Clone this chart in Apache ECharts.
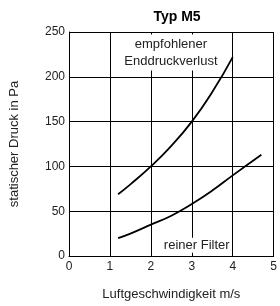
<!DOCTYPE html>
<html>
<head>
<meta charset="utf-8">
<script src="https://cdn.jsdelivr.net/npm/echarts@6/dist/echarts.min.js"></script>
<style>
  html,body{margin:0;padding:0;background:#fff;}
  #chart{width:280px;height:306px;}
</style>
</head>
<body>
<div id="chart"></div>
<script>
  // Werte
  const xTicks = [0, 1, 2, 3, 4, 5];
  const yTicks = [0, 50, 100, 150, 200, 250];
  const endDruck = [[1.2, 69], [1.5, 80], [2, 100], [2.5, 123], [3, 150], [3.5, 183], [4, 222]];
  const reinerFilter = [[1.2, 20], [1.5, 25], [2, 35], [2.5, 45], [3, 58], [3.5, 73], [4, 90], [4.7, 113]];
  const labelEnd = ['empfohlener', 'Enddruckverlust'];
  const labelRein = 'reiner Filter';

  let myChart = echarts.init(document.getElementById('chart'));
  const font = 'Liberation Sans, Arial, sans-serif';
  let lineStyle = {color: '#000', width: 1.8};

  let option = {
    animation: false,
    title: {
      text: 'Typ M5',
      left: 172,
      top: 5,
      textAlign: 'center',
      textStyle: {fontFamily: font, fontSize: 14, fontWeight: 'bold', color: '#000'}
    },
    grid: {left: 66, right: 1, top: 32, bottom: 45},
    xAxis: {
      type: 'value',
      min: 0, max: 5, interval: 1,
      name: 'Luftgeschwindigkeit m/s',
      nameLocation: 'middle',
      nameGap: 32,
      nameTextStyle: {fontFamily: font, fontSize: 13, color: '#222'},
      axisLine: {lineStyle: {color: '#000', width: 1}},
      axisTick: {show: false},
      axisLabel: {fontFamily: font, fontSize: 12, color: '#222', margin: 5},
      splitLine: {lineStyle: {color: '#000', width: 1}}
    },
    yAxis: {
      type: 'value',
      min: 0, max: 250, interval: 50,
      name: 'statischer Druck in Pa',
      nameLocation: 'middle',
      nameGap: 48,
      nameTextStyle: {fontFamily: font, fontSize: 13, color: '#222'},
      axisLine: {show: true, lineStyle: {color: '#000', width: 1}},
      axisTick: {show: false},
      axisLabel: {fontFamily: font, fontSize: 12, color: '#222', margin: 4},
      splitLine: {lineStyle: {color: '#000', width: 1}}
    },
    series: [
      {
        type: 'line',
        data: endDruck,
        smooth: true,
        symbol: 'none',
        lineStyle: lineStyle,
        markPoint: {
          symbol: 'rect', symbolSize: 0,
          data: [{coord: [2.49, 227], value: 0}],
          label: {
            show: true,
            formatter: labelEnd.join('\n'),
            fontFamily: font, fontSize: 13, color: '#222',
            lineHeight: 17,
            align: 'center',
            backgroundColor: '#fff',
            padding: [1, 2]
          }
        }
      },
      {
        type: 'line',
        data: reinerFilter,
        smooth: true,
        symbol: 'none',
        lineStyle: lineStyle,
        markPoint: {
          symbol: 'rect', symbolSize: 0,
          data: [{coord: [3.12, 12], value: 0}],
          label: {
            show: true,
            formatter: labelRein,
            fontFamily: font, fontSize: 13, color: '#222',
            align: 'center',
            backgroundColor: '#fff',
            padding: [1, 2]
          }
        }
      }
    ]
  };

  myChart.setOption(option);
</script>
</body>
</html>
